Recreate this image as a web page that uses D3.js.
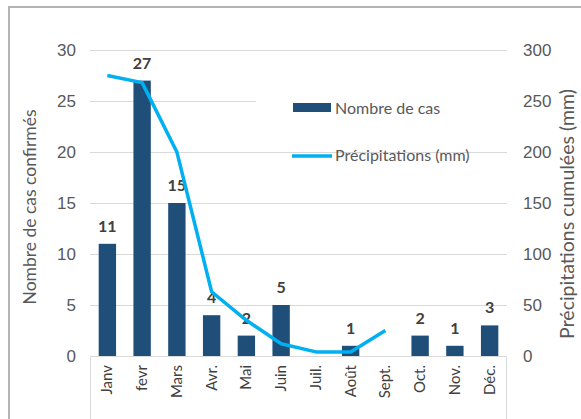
<!DOCTYPE html>
<html>
<head>
<meta charset="utf-8">
<script src="https://cdn.jsdelivr.net/npm/d3@7"></script>
<style>
  body { margin: 0; background: #fff; }
  svg { display: block; font-family: Lato, "Open Sans", sans-serif; }
</style>
</head>
<body>
<script>
'use strict';

const months = ['Janv', 'fevr', 'Mars', 'Avr.', 'Mai', 'Juin', 'Juil.', 'Août', 'Sept.', 'Oct.', 'Nov.', 'Déc.'];
const cases = [11, 27, 15, 4, 2, 5, 0, 1, 0, 2, 1, 3];
const rain = [275, 268, 200, 63, 35, 12, 4, 4, 25, null, null, null];
const leftTicks = [0, 5, 10, 15, 20, 25, 30];
const rightTicks = [0, 50, 100, 150, 200, 250, 300];

const width = 581;
const height = 419;
const barColor = '#1f4e79';
const lineColor = '#00b0f0';

const svg = d3.select('body').append('svg')
  .attr('width', width)
  .attr('height', height);

// outer frame (only top and left visible)
svg.append('path')
  .attr('d', 'M9,' + height + 'V7H' + width)
  .attr('fill', 'none')
  .attr('stroke', '#b4b4b4')
  .attr('stroke-width', 2);

const x = d3.scaleBand()
  .domain(months)
  .range([90, 507])
  .paddingInner(0.5)
  .paddingOuter(0.25);

const yLeft = d3.scaleLinear().domain([0, 30]).range([356, 50]);
const yRight = d3.scaleLinear().domain([0, 300]).range([356, 50]);

// gridlines
svg.append('g')
  .selectAll('line')
  .data(leftTicks.slice(1))
  .enter()
  .append('line')
    .attr('x1', 90)
    .attr('x2', 507)
    .attr('y1', d => yLeft(d) + 0.5)
    .attr('y2', d => yLeft(d) + 0.5)
    .attr('stroke', '#d9d9d9');

// left axis
const leftAxis = svg.append('g')
  .attr('transform', 'translate(76,0)')
  .call(d3.axisLeft(yLeft).tickValues(leftTicks).tickSize(0).tickPadding(0));
leftAxis.select('.domain').remove();
leftAxis.selectAll('text').style('font-size', '17px').attr('fill', '#595959');

// right axis
const rightAxis = svg.append('g')
  .attr('transform', 'translate(523,0)')
  .call(d3.axisRight(yRight).tickValues(rightTicks).tickSize(0).tickPadding(0));
rightAxis.select('.domain').remove();
rightAxis.selectAll('text').style('font-size', '17px').attr('fill', '#595959');

// category axis box
svg.append('path')
  .attr('d', 'M90.5,' + height + 'V356.5H506.5V' + height)
  .attr('fill', 'none')
  .attr('stroke', '#d9d9d9');

svg.append('g')
  .selectAll('text')
  .data(months)
  .enter()
  .append('text')
    .attr('transform', d => 'translate(' + (x(d) + x.bandwidth() / 2 + 5) + ',365)rotate(-90)')
    .attr('text-anchor', 'end')
    .style('font-size', '15px')
    .attr('fill', '#404040')
    .text(d => d);

// legend background covers the gridlines
svg.append('rect')
  .attr('x', 256)
  .attr('y', 66)
  .attr('width', 251)
  .attr('height', 80)
  .attr('fill', '#fff');

// bars
svg.selectAll('.bar')
  .data(months)
  .enter()
  .append('rect')
    .attr('class', 'bar')
    .attr('x', d => x(d))
    .attr('width', x.bandwidth())
    .attr('y', (d, i) => yLeft(cases[i]))
    .attr('height', (d, i) => yLeft(0) - yLeft(cases[i]))
    .attr('fill', barColor);

// bar labels
svg.selectAll('.lbl')
  .data(months)
  .enter()
  .filter((d, i) => cases[i] > 0)
  .append('text')
    .attr('class', 'lbl')
    .attr('x', d => x(d) + x.bandwidth() / 2)
    .attr('y', d => yLeft(cases[months.indexOf(d)]) - 12)
    .attr('text-anchor', 'middle')
    .style('font-size', '16px')
    .style('font-weight', 'bold')
    .attr('fill', '#404040')
    .text(d => cases[months.indexOf(d)]);

// rainfall line
const line = d3.line()
  .defined(d => d.v !== null)
  .x(d => x(d.m) + x.bandwidth() / 2)
  .y(d => yRight(d.v));

svg.append('path')
  .datum(months.map((m, i) => ({ m: m, v: rain[i] })))
  .attr('d', line)
  .attr('fill', 'none')
  .attr('stroke', lineColor)
  .attr('stroke-width', 3.5)
  .attr('stroke-linejoin', 'round');

// legend
svg.append('rect')
  .attr('x', 293)
  .attr('y', 103)
  .attr('width', 38)
  .attr('height', 9)
  .attr('fill', barColor);
svg.append('text')
  .attr('x', 335)
  .attr('y', 114)
  .style('font-size', '16px')
  .attr('fill', '#595959')
  .text('Nombre de cas');

svg.append('line')
  .attr('x1', 292)
  .attr('x2', 332)
  .attr('y1', 156)
  .attr('y2', 156)
  .attr('stroke', lineColor)
  .attr('stroke-width', 3.5);
svg.append('text')
  .attr('x', 335)
  .attr('y', 161)
  .style('font-size', '16px')
  .attr('fill', '#595959')
  .text('Précipitations (mm)');

// axis titles
svg.append('text')
  .attr('transform', 'translate(36,207)rotate(-90)')
  .attr('text-anchor', 'middle')
  .style('font-size', '17.5px')
  .attr('fill', '#595959')
  .text('Nombre de cas confirmés');

svg.append('text')
  .attr('transform', 'translate(574,214)rotate(-90)')
  .attr('text-anchor', 'middle')
  .style('font-size', '19.5px')
  .attr('fill', '#595959')
  .text('Précipitations cumulées (mm)');
</script>
</body>
</html>
